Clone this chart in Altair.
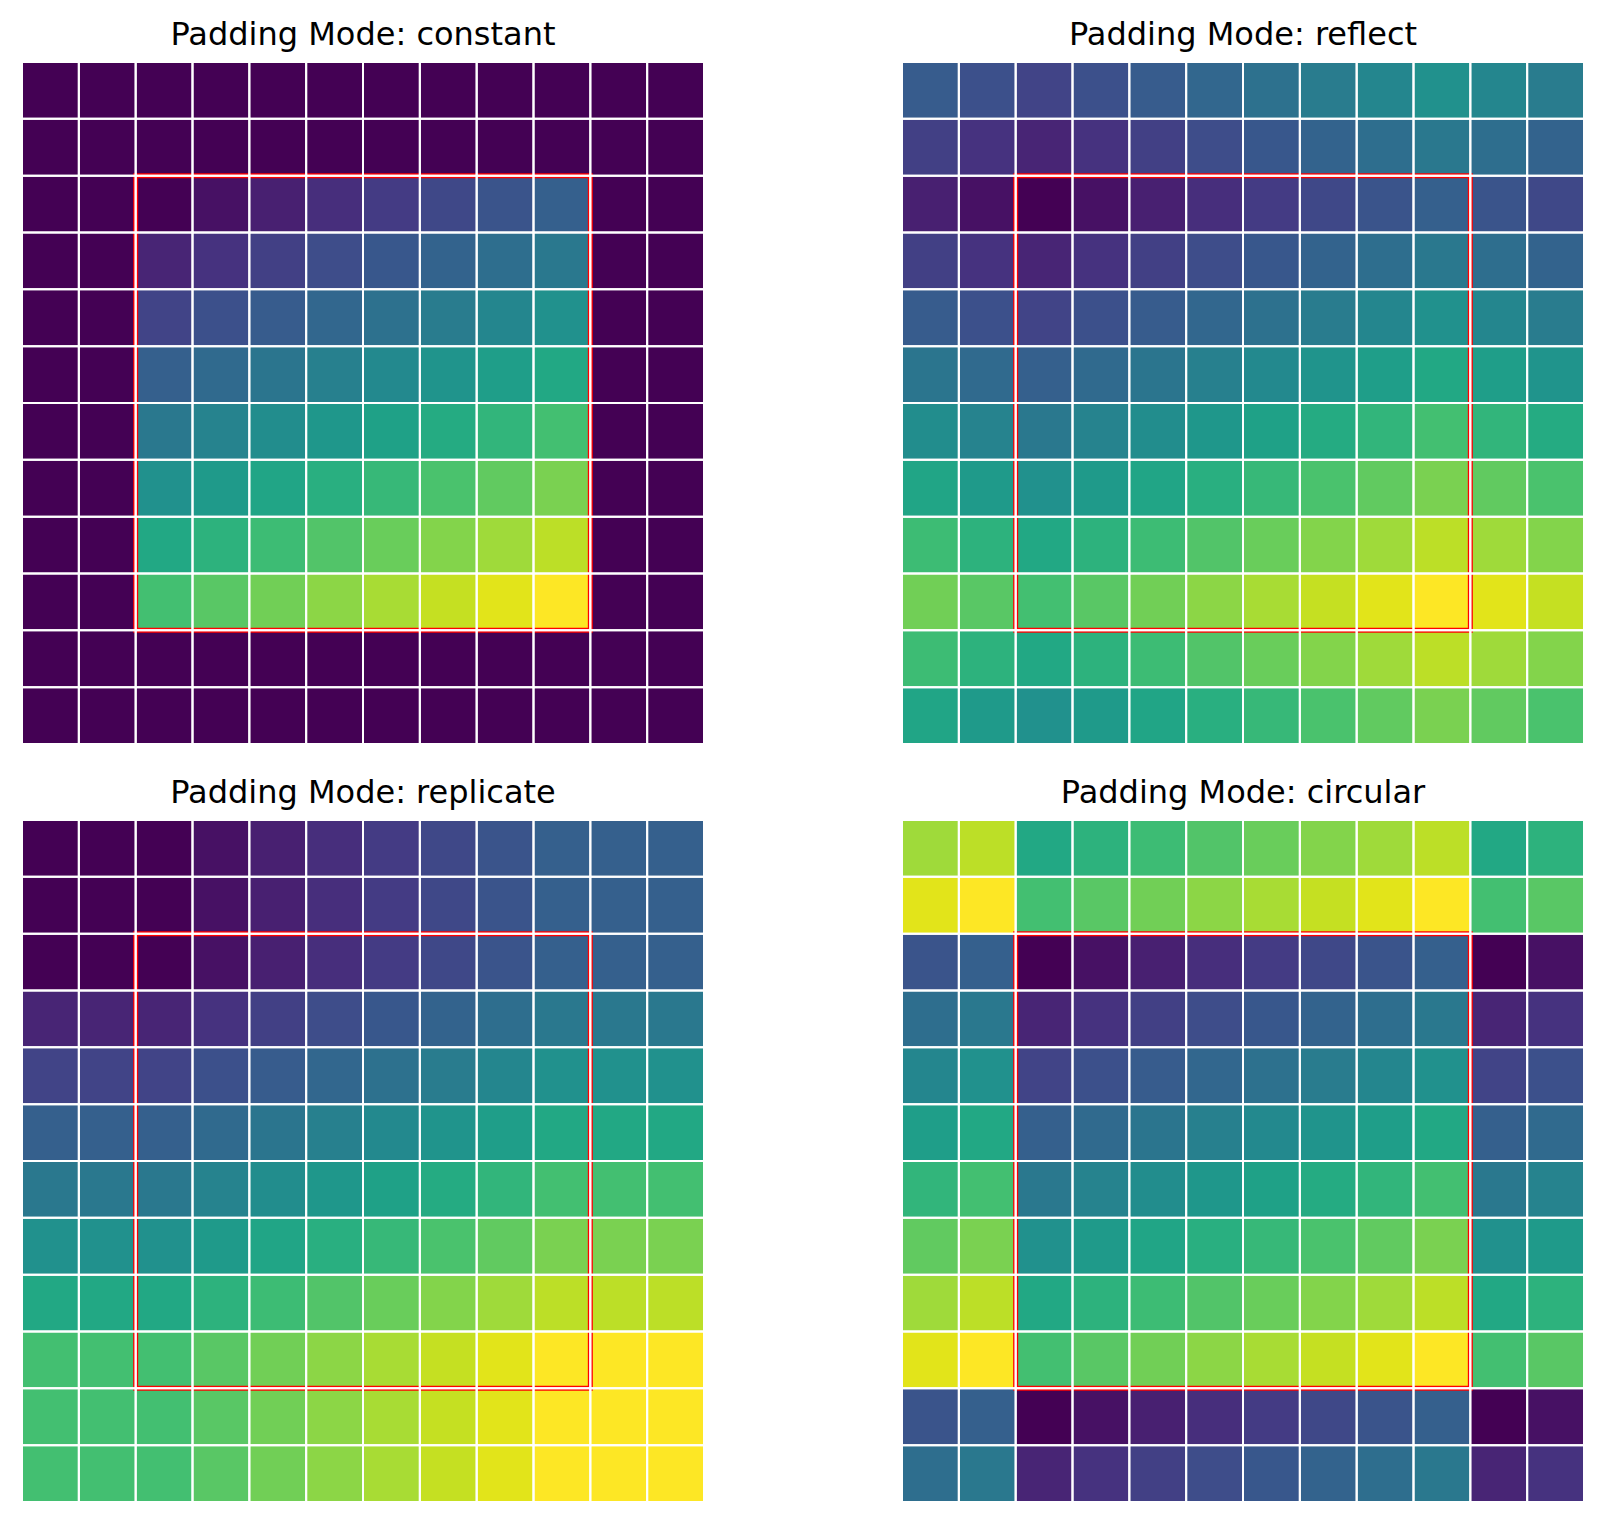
import altair as alt
import numpy as np
import pandas as pd

row0 = [0, 3, 6, 9, 12, 15, 18, 21]
row1 = [7, 10, 13, 16, 19, 22, 25, 28]
row2 = [14, 17, 20, 23, 26, 29, 32, 35]
row3 = [21, 24, 27, 30, 33, 36, 39, 42]
row4 = [28, 31, 34, 37, 40, 43, 46, 49]
row5 = [35, 38, 41, 44, 47, 50, 53, 56]
row6 = [42, 45, 48, 51, 54, 57, 60, 63]
row7 = [49, 52, 55, 58, 61, 64, 67, 70]
BASE = [row0, row1, row2, row3, row4, row5, row6, row7]

MODES = ["constant", "reflect", "replicate", "circular"]
NP_MODES = {"constant": "constant", "reflect": "reflect", "replicate": "edge", "circular": "wrap"}
PAD = 2

N = len(BASE) + 2 * PAD
VMIN, VMAX = 0, 70


def panel(mode):
    arr = np.pad(np.array(BASE), PAD, mode=NP_MODES[mode])
    recs = []
    for r in range(arr.shape[0]):
        for c in range(arr.shape[1]):
            recs.append({"r": r, "r2": r + 1, "c": c, "c2": c + 1, "v": int(arr[r, c])})
    df = pd.DataFrame(recs)
    xs = alt.Scale(domain=[0, N], nice=False, zero=False)
    ys = alt.Scale(domain=[0, N], nice=False, zero=False, reverse=True)
    base = alt.Chart(df).encode(
        x=alt.X("c:Q", scale=xs, axis=None),
        x2="c2:Q",
        y=alt.Y("r:Q", scale=ys, axis=None),
        y2="r2:Q",
    )
    fill = base.mark_rect(strokeWidth=0).encode(
        color=alt.Color("v:Q", scale=alt.Scale(scheme="viridis", domain=[VMIN, VMAX]), legend=None)
    )
    box_df = pd.DataFrame({"x0": [PAD], "x1": [N - PAD], "y0": [PAD], "y1": [N - PAD]})
    box = alt.Chart(box_df).mark_rect(fillOpacity=0, stroke="red", strokeWidth=5).encode(
        x=alt.X("x0:Q", scale=xs, axis=None), x2="x1:Q",
        y=alt.Y("y0:Q", scale=ys, axis=None), y2="y1:Q",
    )
    grid = base.mark_rect(fillOpacity=0, stroke="white", strokeWidth=2)
    return alt.layer(fill, box, grid).properties(
        width=682, height=682,
        title=alt.TitleParams(
            f"Padding Mode: {mode}", fontSize=32, font="DejaVu Sans", fontWeight="normal",
            color="black", offset=9, anchor="middle",
        ),
    )


p = [panel(m) for m in MODES]
top = alt.hconcat(p[0], p[1], spacing=194)
bottom = alt.hconcat(p[2], p[3], spacing=194)
chart = alt.vconcat(top, bottom, spacing=30).properties(
    padding={"left": 12, "top": 10, "right": 5, "bottom": 5}
).configure_view(stroke=None).configure(background="white")

chart.save("out.html", embed_options={"renderer": "svg", "actions": False})
